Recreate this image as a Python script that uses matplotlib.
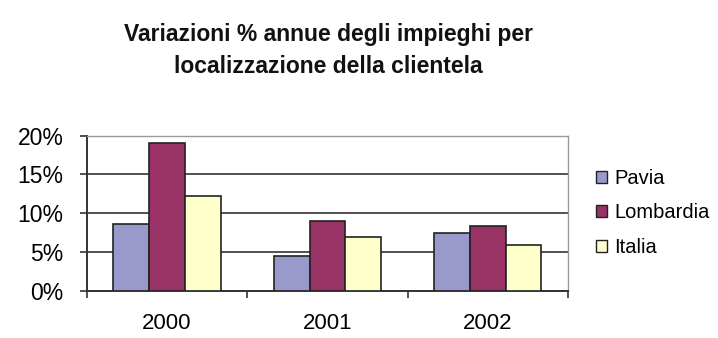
import numpy as np
import matplotlib
matplotlib.use('Agg')
import matplotlib.pyplot as plt
from matplotlib.ticker import FuncFormatter

plt.rcParams['font.family'] = ['Liberation Sans', 'DejaVu Sans']

years = ['2000', '2001', '2002']
series = ['Pavia', 'Lombardia', 'Italia']
pavia = [8.6, 4.5, 7.5]
lombardia = [19.0, 9.0, 8.4]
italia = [12.2, 6.9, 5.9]
colors = ['#9999CC', '#993366', '#FFFFCC']

fig = plt.figure(figsize=(7.18, 3.38), dpi=100)
ax = fig.add_axes([0.121, 0.139, 0.670, 0.460])

x = np.arange(len(years))
w = 0.223
for i, (vals, c, name) in enumerate(zip([pavia, lombardia, italia], colors, series)):
    ax.bar(x + (i - 1) * w, vals, w, color=c, edgecolor='#222222', linewidth=1.2,
           label=name, zorder=3)

ax.set_xlim(-0.5, 2.5)
ax.set_ylim(0, 20)
ax.set_yticks([0, 5, 10, 15, 20])
ax.yaxis.set_major_formatter(FuncFormatter(lambda v, p: '%d%%' % v))
ax.grid(axis='y', color='#333333', linewidth=1.2, zorder=0)

ax.set_xticks(x)
ax.set_xticklabels(years)
ax.set_xticks([-0.5, 0.5, 1.5, 2.5], minor=True)
ax.tick_params(axis='x', which='major', length=0, labelsize=16, pad=16)
ax.tick_params(axis='x', which='minor', length=5, width=1.2, direction='out', color='#333333')
ax.tick_params(axis='y', length=5, width=1.2, direction='out', labelsize=16.5, color='#333333', pad=12)

for s in ['top', 'right']:
    ax.spines[s].set_color('#999999')
    ax.spines[s].set_linewidth(1.0)
for s in ['left', 'bottom']:
    ax.spines[s].set_color('#333333')
    ax.spines[s].set_linewidth(1.4)

leg = fig.legend(loc='center left', bbox_to_anchor=(0.830, 0.37), frameon=False,
                 fontsize=14.5, handlelength=0.55, handleheight=0.55,
                 handletextpad=0.35, labelspacing=0.78, borderpad=0, borderaxespad=0)
for h in leg.legend_handles:
    h.set_linewidth(1.0)

fig.text(0.457, 0.852, 'Variazioni % annue degli impieghi per\nlocalizzazione della clientela',
         ha='center', va='center', fontsize=16.5, fontweight='bold', linespacing=1.5,
         color='#111111')

fig.savefig('out.png', dpi=100)
